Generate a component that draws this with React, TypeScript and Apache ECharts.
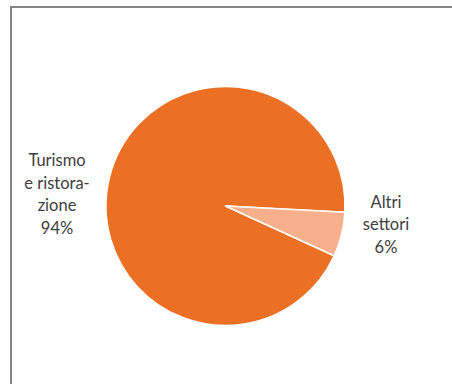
import React, { useEffect, useRef } from "react";
import * as echarts from "echarts";

const categories = ["Turismo\ne ristora-\nzione", "Altri\nsettori"];
const values = [94, 6];
const colors = ["#EB7024", "#F8AF8B"];

export default function App() {
  const ref = useRef<HTMLDivElement>(null);
  useEffect(() => {
    const chart = echarts.init(ref.current!, null, { renderer: "svg" });
    chart.setOption({
      animation: false,
      graphic: [
        { type: "line", shape: { x1: 10, y1: 7, x2: 452, y2: 7 }, style: { stroke: "#868686", lineWidth: 2 } },
        { type: "line", shape: { x1: 11, y1: 6, x2: 11, y2: 384 }, style: { stroke: "#868686", lineWidth: 2 } },
      ],
      series: [
        {
          type: "pie",
          center: [225.5, 206],
          radius: 119.5,
          startAngle: 335.4,
          clockwise: true,
          data: categories.map((c, i) => ({ name: c, value: values[i], itemStyle: { color: colors[i] } })),
          itemStyle: { borderColor: "#ffffff", borderWidth: 1.5 },
          label: {
            show: true,
            position: "outside",
            formatter: "{b}\n{d}%",
            fontFamily: "Lato",
            fontSize: 16.5,
            lineHeight: 22.5,
            color: "#404040",
            align: "center",
            overflow: "none",
            alignTo: "none",
            bleedMargin: 0,
          },
          labelLine: { show: false },
          labelLayout: (p: any) => {
            if (p.dataIndex === 0) return { x: 57, y: 194, align: "center", verticalAlign: "middle" };
            return { x: 386, y: 224, align: "center", verticalAlign: "middle" };
          },
        },
      ],
    });
    return () => chart.dispose();
  }, []);
  return (
    <div style={{ position: "absolute", left: 0, top: 0, width: 452, height: 384, background: "#fff" }}>
      <div ref={ref} style={{ width: 452, height: 384 }} />
    </div>
  );
}
